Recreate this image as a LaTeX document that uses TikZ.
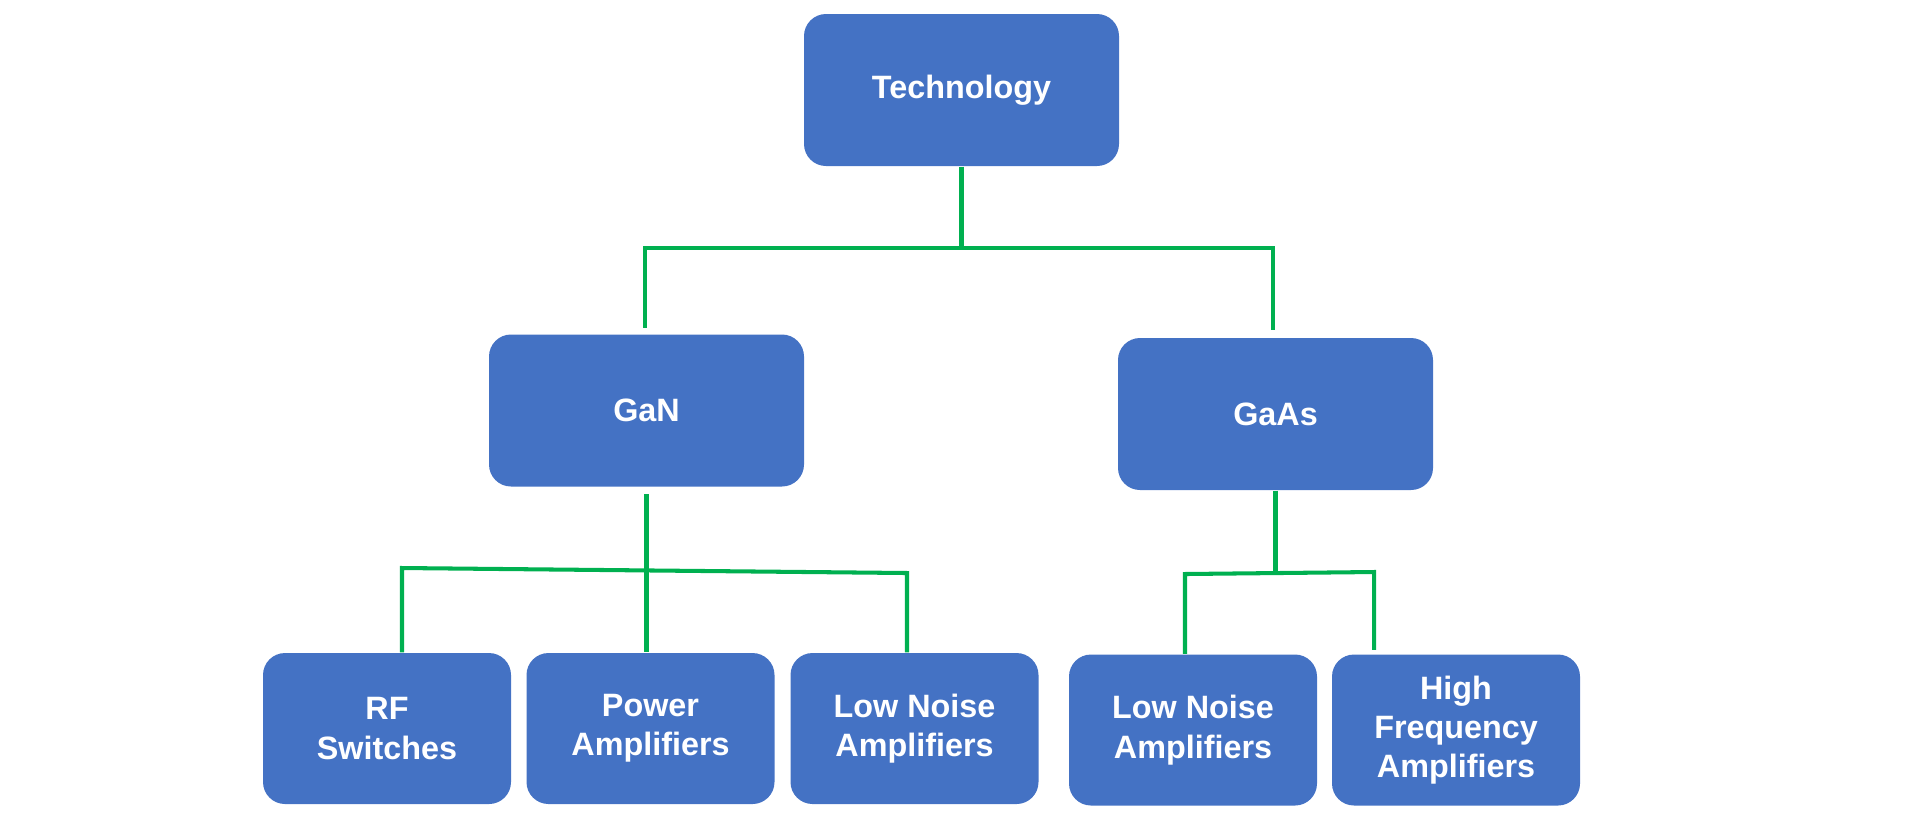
\documentclass[tikz,border=0pt]{standalone}
\usepackage{fontspec}
\setmainfont{Liberation Sans}
\definecolor{boxblue}{HTML}{4472C4}
\definecolor{linkgreen}{HTML}{00B050}

\begin{document}
\begin{tikzpicture}[
  box/.style={rectangle, rounded corners=0.22cm, fill=boxblue, text=white,
    font=\bfseries\fontsize{9.2}{11.2}\selectfont, align=center, inner sep=0pt},
  link/.style={draw=linkgreen, line width=1.15pt}
]
\useasboundingbox (0,0) rectangle (19.2,-8.3);

\begin{scope}[every node/.style={box, minimum width=3.15cm, minimum height=1.52cm}]
\node (tech) at (9.615,-0.90) {Technology};
\node (gan)  at (6.465,-4.105) {GaN};
\node (gaas) at (12.755,-4.14) {GaAs};
\end{scope}

\begin{scope}[every node/.style={box, minimum width=2.48cm, minimum height=1.51cm}]
\node (rf)   at (3.87,-7.285)  {RF\\Switches};
\node (pa)   at (6.505,-7.285) {Power\\Amplifiers};
\node (lna1) at (9.145,-7.285) {Low Noise\\Amplifiers};
\node (lna2) at (11.93,-7.30)  {Low Noise\\Amplifiers};
\node (hfa)  at (14.56,-7.30)  {High\\Frequency\\Amplifiers};
\end{scope}

\coordinate (tl) at (6.45,-2.48);
\coordinate (tr) at (12.73,-2.48);
\coordinate (gl) at (4.02,-5.68);
\coordinate (gr) at (9.07,-5.73);
\coordinate (al) at (11.85,-5.74);
\coordinate (ar) at (13.74,-5.72);

\begin{scope}[link]
\draw (tech.south) -- (tech.south |- tl);
\draw[shorten <=0.06cm, shorten >=0.07cm] (tl |- gan.north) -- (tl) -- (tr) -- (tr |- gaas.north);

\draw[shorten <=0.07cm] (gan.south) -- (gan.south |- pa.north);
\draw (gl |- rf.north) -- (gl) -- (gr) -- (gr |- lna1.north);

\draw (gaas.south) -- (gaas.south |- al);
\draw[shorten >=0.04cm] (al |- lna2.north) -- (al) -- (ar) -- (ar |- hfa.north);
\end{scope}

\end{tikzpicture}
\end{document}
